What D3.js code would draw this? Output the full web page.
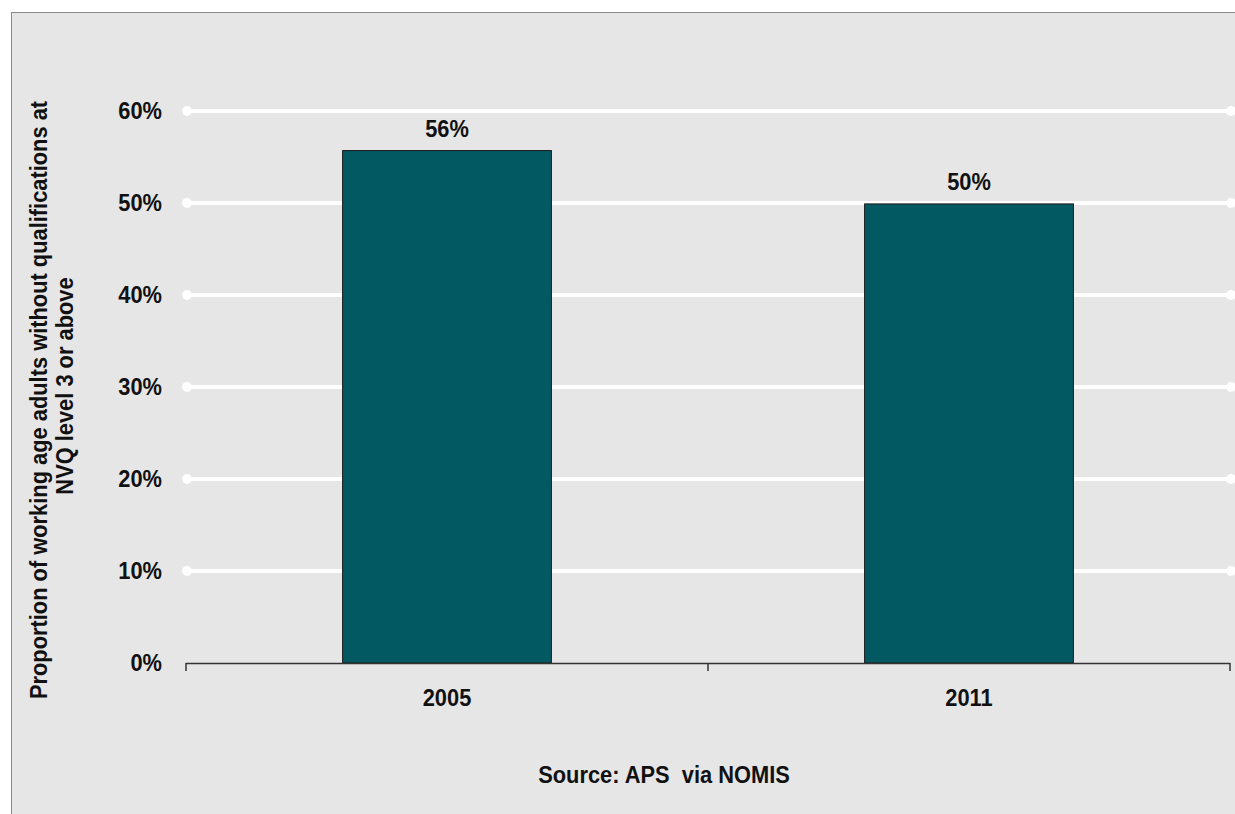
<!DOCTYPE html>
<html><head><meta charset="utf-8">
<script src="https://cdn.jsdelivr.net/npm/d3@7"></script>
<style>body{margin:0;background:#fff}svg{display:block}</style>
</head><body>
<svg id="c" width="1235" height="814"></svg>
<script>
const categories = ["2005", "2011"];
const values = [55.7, 49.9];
const valueLabels = ["56%", "50%"];
const yTicks = [0, 10, 20, 30, 40, 50, 60];
const yTitle = ["Proportion of working age adults without qualifications at", "NVQ level 3 or above"];
const sourceText = "Source: APS  via NOMIS";

const svg = d3.select("#c");
const font = "'Liberation Sans Narrow','Arial Narrow','Liberation Sans',Arial,sans-serif";
const FS = 23, SX = 0.95;
function label(g, x, y, txt, anchor) {
  return g.append("text").attr("transform", `translate(${x},${y}) scale(${SX},1)`)
    .attr("text-anchor", anchor).attr("font-family", font).attr("font-weight", "bold")
    .attr("font-size", FS).attr("fill", "#111").attr("xml:space", "preserve")
    .style("white-space", "pre").text(txt);
}

svg.append("rect").attr("x", 11.5).attr("y", 12.5).attr("width", 1240).attr("height", 820)
  .attr("fill", "#e6e6e6").attr("stroke", "#8a8a8a").attr("stroke-width", 1);

const x = d3.scaleBand().domain(categories).range([186, 1230]);
const y = d3.scaleLinear().domain([0, 60]).range([663, 111]);
const barW = x.bandwidth() * 0.4;

// gridlines
svg.append("g").selectAll("line").data(yTicks.filter(d => d > 0)).join("line")
  .attr("x1", 187).attr("x2", 1231).attr("y1", d => y(d)).attr("y2", d => y(d))
  .attr("stroke", "#fff").attr("stroke-width", 4).attr("stroke-linecap", "round");
svg.append("g").selectAll("circle").data(yTicks.filter(d => d > 0).flatMap(d => [[187, d], [1231, d]])).join("circle")
  .attr("cx", d => d[0]).attr("cy", d => y(d[1])).attr("r", 5).attr("fill", "#fff");

// y labels
const gy = svg.append("g");
yTicks.forEach(d => label(gy, 162, y(d) + 8, d + "%", "end"));

// bars
svg.append("g").selectAll("rect").data(categories).join("rect")
  .attr("x", d => x(d) + (x.bandwidth() - barW) / 2).attr("width", barW)
  .attr("y", (d, i) => y(values[i])).attr("height", (d, i) => y(0) - y(values[i]))
  .attr("fill", "#035962").attr("stroke", "#1a1a1a").attr("stroke-width", 1);

// bar labels
const gl = svg.append("g");
categories.forEach((c, i) => label(gl, x(c) + x.bandwidth() / 2, y(values[i]) - 14, valueLabels[i], "middle"));

// x axis
const ax = svg.append("g");
ax.append("line").attr("x1", 186).attr("x2", 1230).attr("y1", 663.5).attr("y2", 663.5)
  .attr("stroke", "#333").attr("stroke-width", 1.5);
const tickXs = [x.range()[0], ...categories.slice(1).map(c => x(c)), x.range()[1]];
ax.selectAll("line.t").data(tickXs).join("line").attr("class", "t")
  .attr("x1", d => d).attr("x2", d => d).attr("y1", 663).attr("y2", 671)
  .attr("stroke", "#333").attr("stroke-width", 1.5);
categories.forEach(c => label(ax, x(c) + x.bandwidth() / 2, 706, c, "middle"));

// y title
const yt = svg.append("g");
label(yt, 47, 400, yTitle[0], "middle").attr("transform", `translate(47,400) rotate(-90) scale(${SX},1)`);
label(yt, 73, 386, yTitle[1], "middle").attr("transform", `translate(73,386) rotate(-90) scale(${SX},1)`);

label(svg, 664, 783, sourceText, "middle");
</script>
</body></html>
